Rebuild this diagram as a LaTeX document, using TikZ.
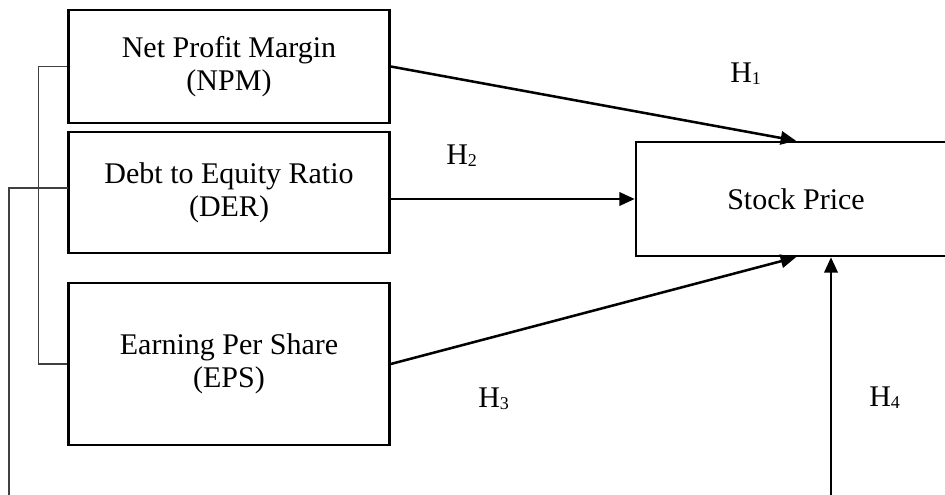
\documentclass[tikz,border=0pt]{standalone}
\usepackage{fontspec}
\setmainfont{Liberation Serif}
\usetikzlibrary{arrows.meta}
\newcommand{\hsub}[1]{H\raisebox{-1.5pt}{\fontsize{13.5}{13.5}\selectfont #1}}
\begin{document}
\begin{tikzpicture}[x=0.75pt,y=-0.75pt,
  box/.style={draw=black,line width=1.9pt,inner sep=0pt,align=center,
    font=\fontsize{22.5}{24.75}\selectfont},
  arr/.style={line width=1.9pt,-{Triangle[length=11.5pt,width=10pt]}},
  thin/.style={draw=black!75,line width=0.8pt},
  hlab/.style={anchor=base west,inner sep=0pt,font=\fontsize{22.5}{24.75}\selectfont}]
\clip (0,0) rectangle (945,495);
\useasboundingbox (0,0) rectangle (945,495);
\node[box,minimum width=321*0.75pt,minimum height=113*0.75pt] (npm) at (229,66.5) {Net Profit Margin\\(NPM)};
\node[box,minimum width=321*0.75pt,minimum height=121*0.75pt] (der) at (229,192.5) {Debt to Equity Ratio\\(DER)};
\node[box,minimum width=321*0.75pt,minimum height=162*0.75pt] (eps) at (229,364) {Earning Per Share\\(EPS)};
\node[box,minimum width=320*0.75pt,minimum height=114*0.75pt] (sp) at (796,199) {Stock Price};
% arrows
\draw[arr] (npm.east) -- (sp.north);
\draw[arr] (der.east |- sp.west) -- (sp.west);
\draw[arr] (eps.east) -- (sp.south);
\coordinate (h4) at (831,500);
\draw[arr] (h4) -- (h4 |- sp.south);
% bracket lines
\draw[thin] (npm.west) -- ++(-29,0) |- (eps.west);
\coordinate (lb) at (9,500);
\coordinate (dl) at (68,188);
\draw[thin] (lb) |- (dl);
% labels
\node[hlab] (h1) at (730,83) {\hsub{1}};
\node[hlab] (h2) at (446,165) {\hsub{2}};
\node[hlab] (h3) at (478,407) {\hsub{3}};
\node[hlab] (h4l) at (869,406) {\hsub{4}};
\end{tikzpicture}
\end{document}
